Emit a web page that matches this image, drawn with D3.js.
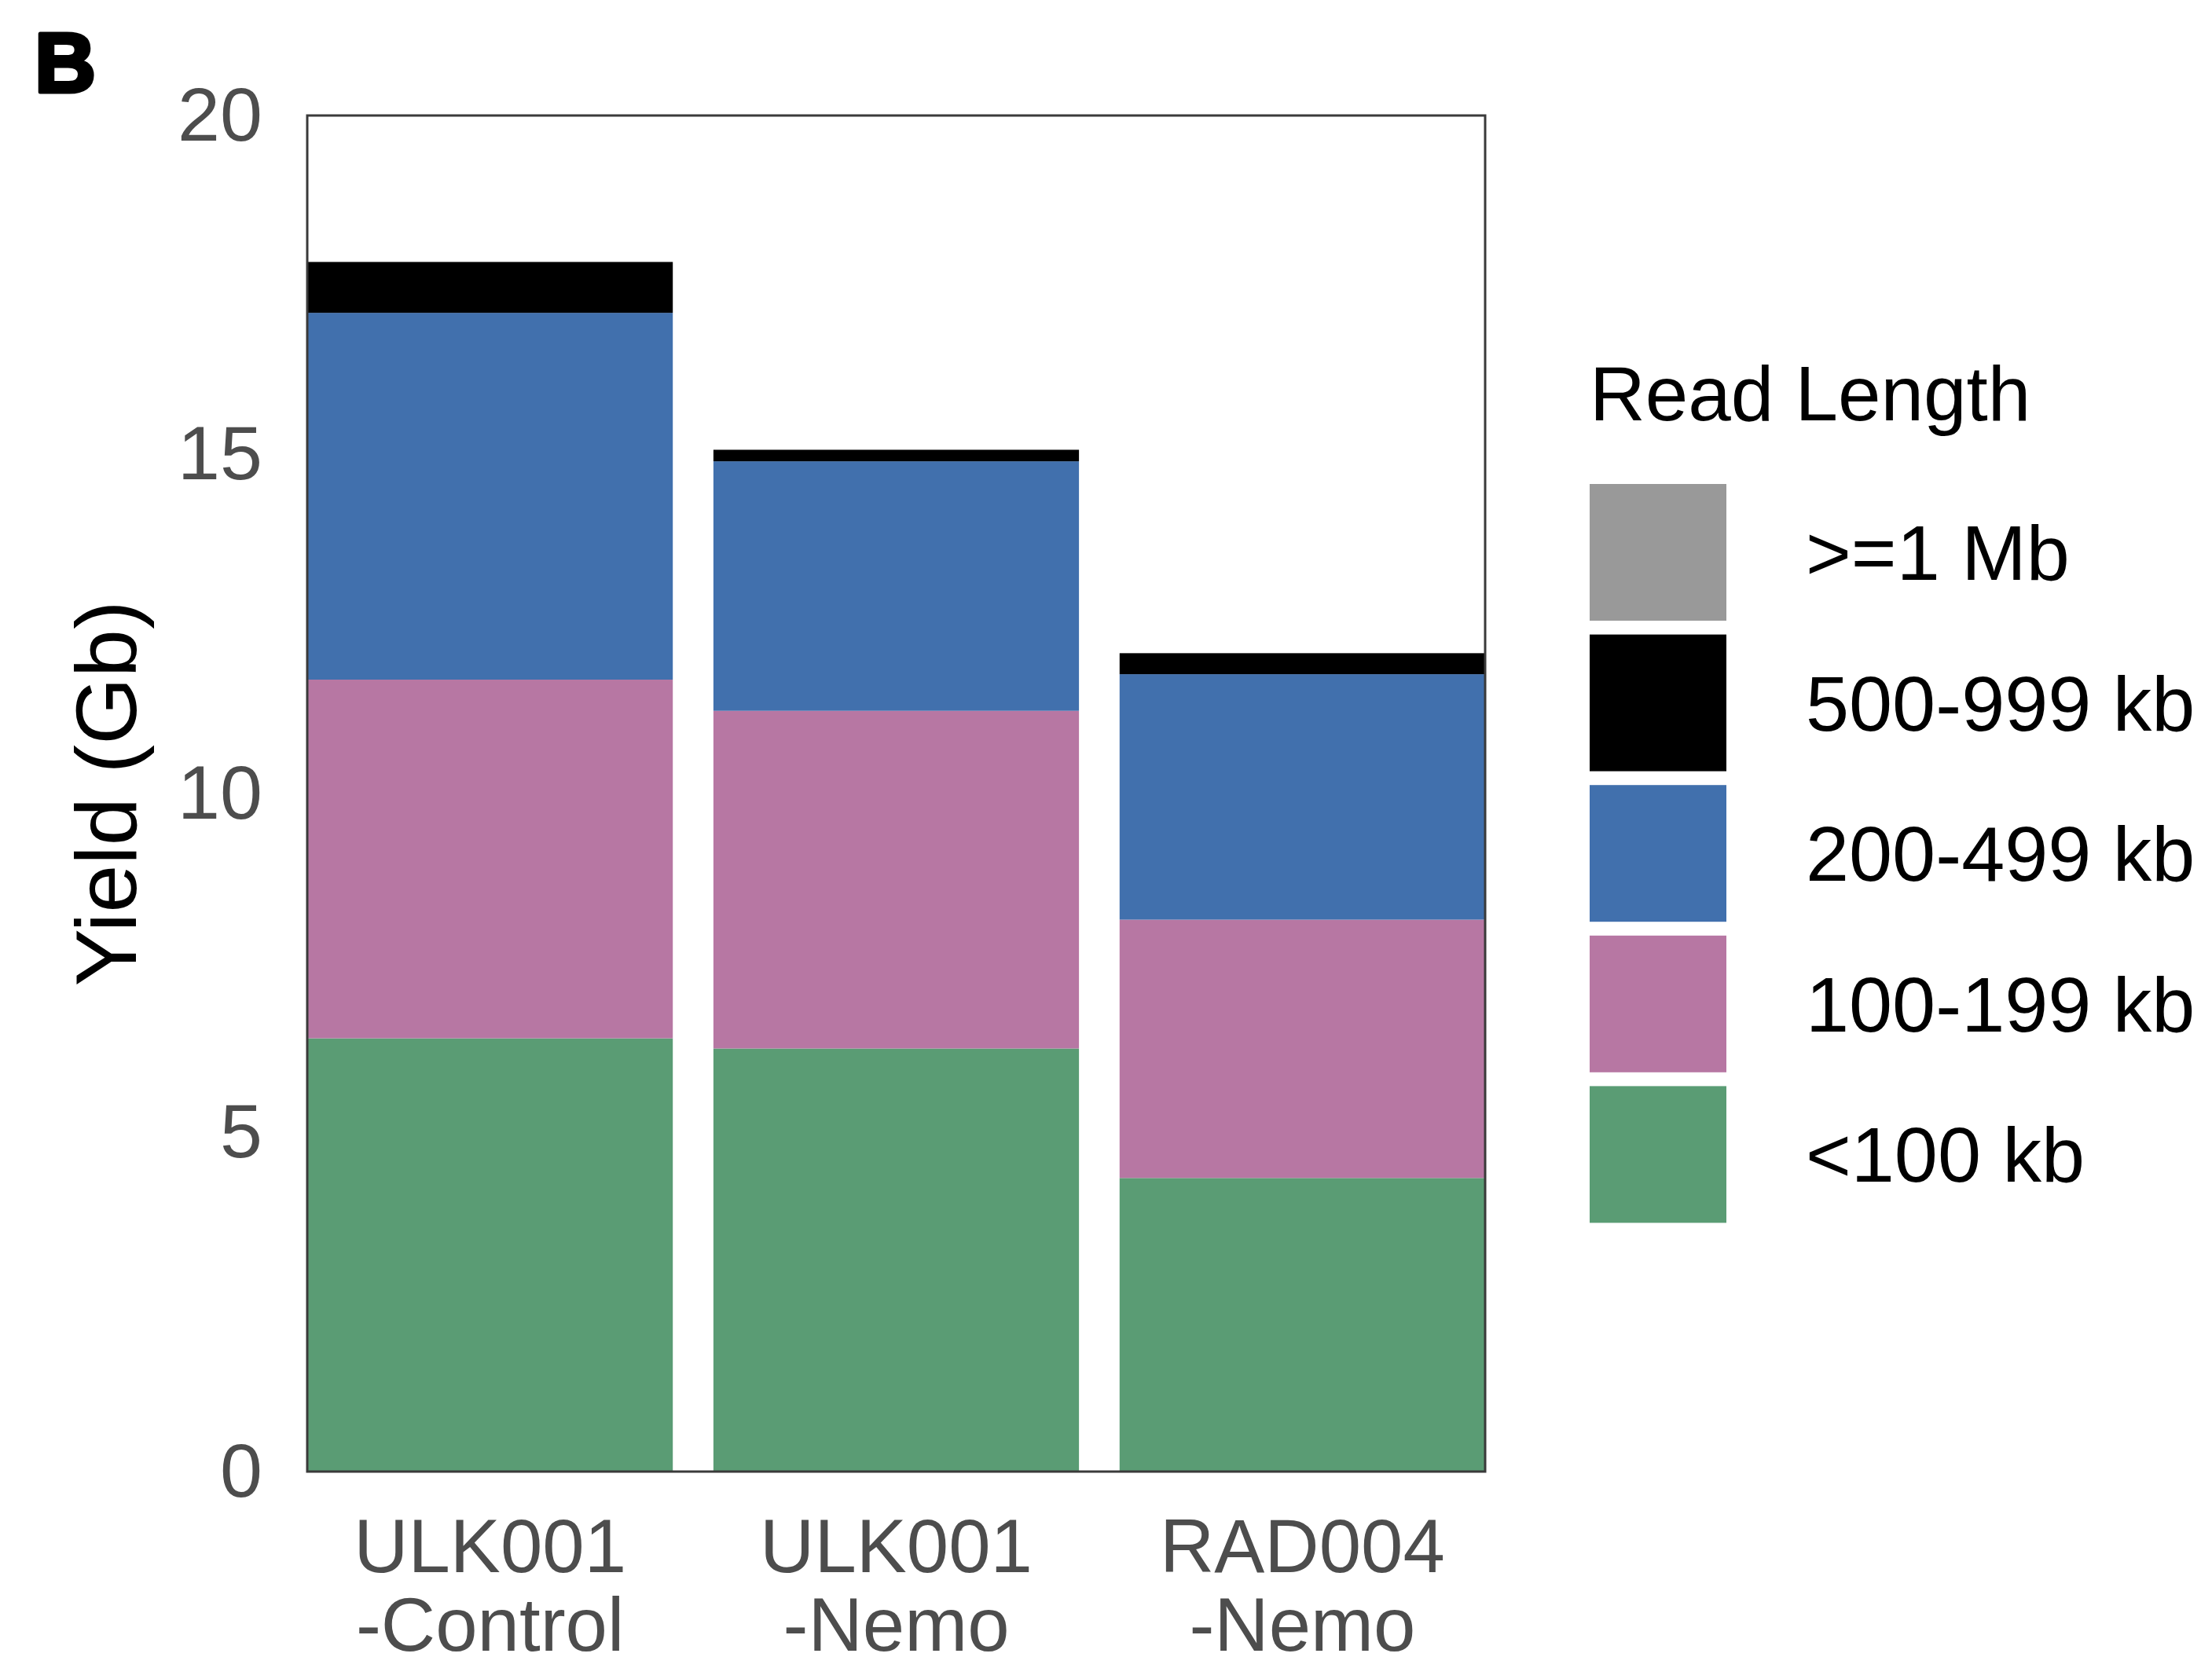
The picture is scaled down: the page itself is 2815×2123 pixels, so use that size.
<!DOCTYPE html>
<html>
<head>
<meta charset="utf-8">
<script src="https://cdn.jsdelivr.net/npm/d3@7"></script>
<style>
  html, body { margin: 0; padding: 0; background: #ffffff; }
  svg { display: block; }
</style>
</head>
<body>
<script>
// Sequencing yield per run, split by read-length bin (Gb)
const categories = ["ULK001-Control", "ULK001-Nemo", "RAD004-Nemo"];
const lengthBins = ["<100 kb", "100-199 kb", "200-499 kb", "500-999 kb", ">=1 Mb"];
const yieldLt100kb   = [6.39, 6.24, 4.33];
const yield100to199  = [5.29, 4.98, 3.81];
const yield200to499  = [5.41, 3.68, 3.62];
const yield500to999  = [0.75, 0.17, 0.31];
const yieldGe1Mb     = [0, 0, 0];
const yTicks = [0, 5, 10, 15, 20];

const binColors = ["#5a9c74", "#b777a3", "#4170ad", "#000000", "#999999"];

const W = 2815, H = 2123;
const panel = { left: 391, right: 1890, top: 147, bottom: 1873 };
const tickFont = "'Liberation Sans', Arial, Helvetica, sans-serif";

const svg = d3.select("body").append("svg")
  .attr("width", W).attr("height", H)
  .style("background", "#ffffff");

// Rows for the stack layout
const seriesByBin = [yieldLt100kb, yield100to199, yield200to499, yield500to999, yieldGe1Mb];
const table = categories.map((c, i) => {
  const row = { sample: c };
  lengthBins.forEach((b, j) => { row[b] = seriesByBin[j][i]; });
  return row;
});
const stacked = d3.stack().keys(lengthBins)(table);

const x = d3.scaleBand().domain(categories)
  .range([panel.left, panel.right]).paddingInner(0.1).paddingOuter(0);
const y = d3.scaleLinear().domain([0, 20]).range([panel.bottom, panel.top]);
const color = d3.scaleOrdinal().domain(lengthBins).range(binColors);

// Stacked bars
svg.append("g").selectAll("g")
  .data(stacked)
  .join("g")
  .attr("fill", d => color(d.key))
  .selectAll("rect")
  .data(d => d)
  .join("rect")
  .attr("x", d => x(d.data.sample))
  .attr("width", x.bandwidth())
  .attr("y", d => y(d[1]))
  .attr("height", d => Math.max(0, y(d[0]) - y(d[1])));

// Panel border
svg.append("rect")
  .attr("x", panel.left).attr("y", panel.top)
  .attr("width", panel.right - panel.left)
  .attr("height", panel.bottom - panel.top)
  .attr("fill", "none")
  .attr("stroke", "#3a3a3a")
  .attr("stroke-width", 3);

// Y axis
const yAxis = svg.append("g")
  .attr("transform", `translate(${panel.left},0)`)
  .call(d3.axisLeft(y).tickValues(yTicks).tickSize(0).tickPadding(57).tickFormat(d3.format("d")));
yAxis.select(".domain").remove();
yAxis.selectAll("text")
  .attr("font-family", tickFont)
  .attr("font-size", 97)
  .attr("fill", "#4d4d4d");

// X axis with two-line sample labels
const xAxis = svg.append("g")
  .attr("transform", `translate(0,${panel.bottom})`)
  .call(d3.axisBottom(x).tickSize(0).tickPadding(0));
xAxis.select(".domain").remove();
xAxis.selectAll("text")
  .attr("font-family", tickFont)
  .attr("font-size", 96)
  .attr("fill", "#4d4d4d")
  .attr("dy", null)
  .attr("y", null)
  .text(null)
  .each(function(d) {
    const parts = d.split("-");
    const t = d3.select(this);
    t.append("tspan").attr("x", 0).attr("y", 128).text(parts[0]);
    t.append("tspan").attr("x", 0).attr("y", 228).text("-" + parts[1]);
  });

// Y axis title
svg.append("text")
  .attr("transform", `translate(173,${(panel.top + panel.bottom) / 2}) rotate(-90)`)
  .attr("text-anchor", "middle")
  .attr("font-family", tickFont)
  .attr("font-size", 110)
  .attr("fill", "#000000")
  .text("Yield (Gb)");

// Panel tag
svg.append("text")
  .attr("x", 44).attr("y", 117)
  .attr("font-family", tickFont)
  .attr("font-weight", "bold")
  .attr("font-size", 108)
  .attr("fill", "#000000")
  .attr("stroke", "#000000")
  .attr("stroke-width", 5)
  .attr("stroke-linejoin", "round")
  .text("B");

// Legend
const legend = svg.append("g").attr("transform", "translate(2023,0)");
legend.append("text")
  .attr("x", 0).attr("y", 535)
  .attr("font-family", tickFont)
  .attr("font-size", 98)
  .attr("fill", "#000000")
  .text("Read Length");

const legendOrder = lengthBins.slice().reverse();
const ly = d3.scaleBand().domain(legendOrder).range([616, 616 + 5 * 191.6]).paddingInner(0);
const keyH = 174;
const items = legend.selectAll("g.item")
  .data(legendOrder)
  .join("g")
  .attr("class", "item")
  .attr("transform", d => `translate(0,${ly(d)})`);
items.append("rect")
  .attr("width", 174).attr("height", keyH)
  .attr("fill", d => color(d));
items.append("text")
  .attr("x", 275).attr("y", keyH / 2 + 35)
  .attr("font-family", tickFont)
  .attr("font-size", 99)
  .attr("fill", "#000000")
  .text(d => d);
</script>
</body>
</html>
